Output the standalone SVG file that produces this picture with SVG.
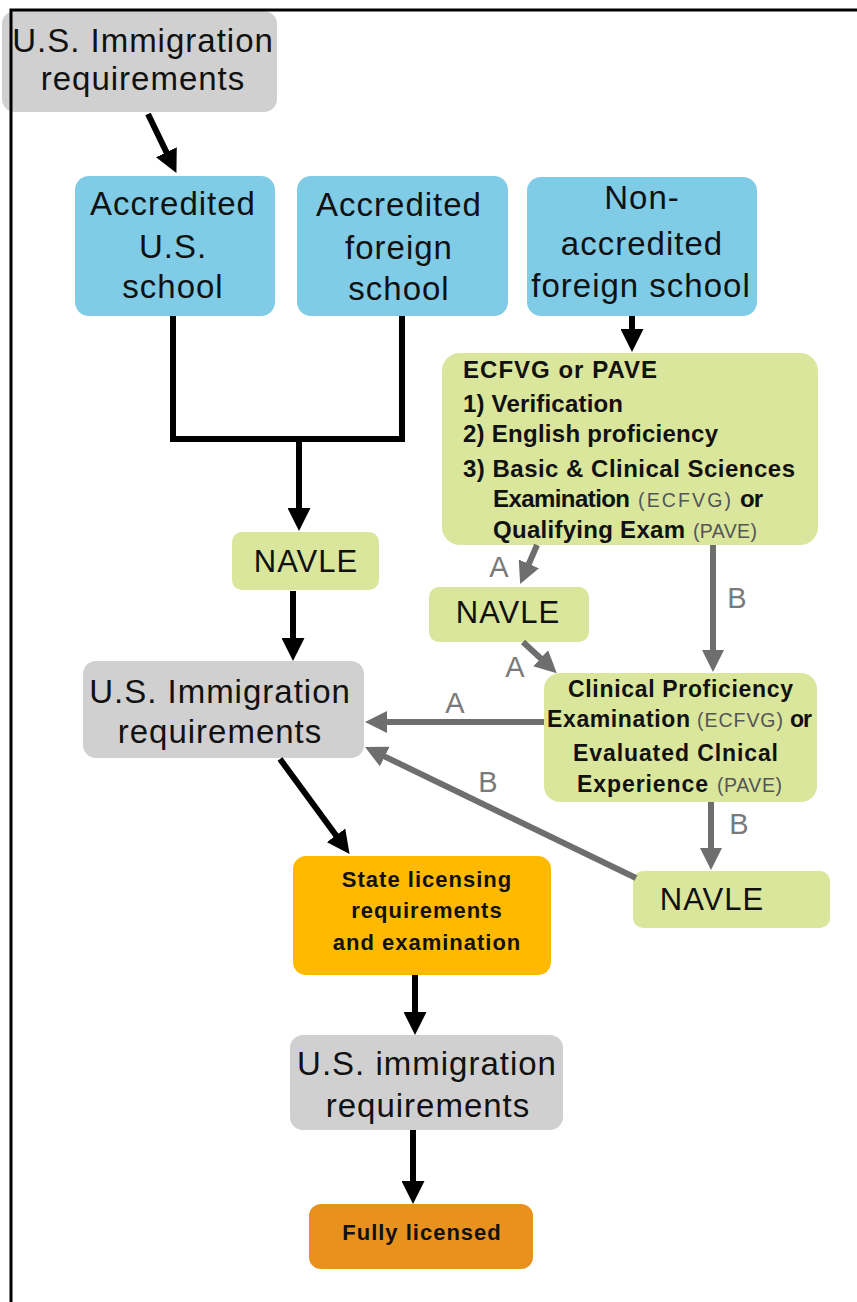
<svg xmlns="http://www.w3.org/2000/svg" width="857" height="1302" viewBox="0 0 857 1302">
<defs>
<style>
.big{font-family:"Liberation Sans",Arial,sans-serif;font-size:33px;letter-spacing:1px;fill:#111;text-anchor:middle}
.navle{font-family:"Liberation Sans",Arial,sans-serif;font-size:31px;letter-spacing:1px;fill:#111;text-anchor:middle}
.bd{font-family:"Liberation Sans",Arial,sans-serif;font-weight:bold;fill:#111}
.sm{font-family:"Liberation Sans",Arial,sans-serif;font-size:19.5px;fill:#555}
.lbl{font-family:"Liberation Sans",Arial,sans-serif;font-size:29px;fill:#7a7a7a;text-anchor:middle}
.gray{fill:#d0d0d0}
.blue{fill:#80cce6}
.green{fill:#d9e69c}
.blk{stroke:#000;stroke-width:6;fill:none}
.gry{stroke:#6e6e6e;stroke-width:6;fill:none}
</style>
<marker id="ab" markerUnits="userSpaceOnUse" markerWidth="23" markerHeight="23" refX="8" refY="11.5" orient="auto" viewBox="0 0 23 23">
<path d="M0,0 L23,11.5 L0,23 z" fill="#000"/>
</marker>
<marker id="ag" markerUnits="userSpaceOnUse" markerWidth="22" markerHeight="22" refX="8" refY="11" orient="auto" viewBox="0 0 22 22">
<path d="M0,0 L22,11 L0,22 z" fill="#6e6e6e"/>
</marker>
</defs>
<rect width="857" height="1302" fill="#fff"/>

<g id="n-imm-top">
<rect class="gray" x="2" y="11" width="275" height="101" rx="13"/>
<text class="big" x="143" y="52">U.S. Immigration</text>
<text class="big" x="143" y="90">requirements</text>
</g>

<g id="n-acc-us">
<rect class="blue" x="75" y="176" width="200" height="140" rx="14"/>
<text class="big" x="173" y="215">Accredited</text>
<text class="big" x="173" y="258">U.S.</text>
<text class="big" x="173" y="298">school</text>
</g>

<g id="n-acc-foreign">
<rect class="blue" x="297" y="176" width="211" height="140" rx="14"/>
<text class="big" x="399" y="215.5">Accredited</text>
<text class="big" x="399" y="259">foreign</text>
<text class="big" x="399" y="300">school</text>
</g>

<g id="n-nonacc">
<rect class="blue" x="527" y="177" width="230" height="139" rx="14"/>
<text class="big" x="642" y="209">Non-</text>
<text class="big" x="642" y="255">accredited</text>
<text class="big" x="641" y="297">foreign school</text>
</g>

<g id="n-ecfvg">
<rect class="green" x="442" y="353" width="376" height="192" rx="18"/>
<text class="bd" font-size="24" x="463" y="378" textLength="194" lengthAdjust="spacing">ECFVG or PAVE</text>
<text class="bd" font-size="24" x="463" y="412" textLength="160" lengthAdjust="spacing">1) Verification</text>
<text class="bd" font-size="24" x="463" y="442" textLength="255" lengthAdjust="spacing">2) English proficiency</text>
<text class="bd" font-size="24" x="463" y="477" textLength="332" lengthAdjust="spacing">3) Basic &amp; Clinical Sciences</text>
<text class="bd" font-size="24" x="493" y="507" textLength="137" lengthAdjust="spacing">Examination</text>
<text class="sm" x="638" y="507" textLength="93" lengthAdjust="spacing">(ECFVG)</text>
<text class="bd" font-size="24" x="740" y="507" textLength="23" lengthAdjust="spacing">or</text>
<text class="bd" font-size="24" x="493" y="538" textLength="192" lengthAdjust="spacing">Qualifying Exam</text>
<text class="sm" x="693" y="538" textLength="64" lengthAdjust="spacing">(PAVE)</text>
</g>

<g id="n-navle-left">
<rect class="green" x="232" y="532" width="147" height="58" rx="10"/>
<text class="navle" x="306" y="572">NAVLE</text>
</g>

<g id="n-navle-mid">
<rect class="green" x="429" y="587" width="160" height="55" rx="10"/>
<text class="navle" x="508" y="623">NAVLE</text>
</g>

<g id="n-clinical">
<rect class="green" x="544" y="673" width="273" height="129" rx="16"/>
<text class="bd" font-size="23" x="568" y="697" textLength="225" lengthAdjust="spacing">Clinical Proficiency</text>
<text class="bd" font-size="23" x="547" y="727" textLength="143" lengthAdjust="spacing">Examination</text>
<text class="sm" x="697" y="727" textLength="86" lengthAdjust="spacing">(ECFVG)</text>
<text class="bd" font-size="23" x="790" y="727" textLength="22" lengthAdjust="spacing">or</text>
<text class="bd" font-size="23" x="573" y="761" textLength="205" lengthAdjust="spacing">Evaluated Clnical</text>
<text class="bd" font-size="23" x="577" y="792" textLength="131" lengthAdjust="spacing">Experience</text>
<text class="sm" x="717" y="792" textLength="65" lengthAdjust="spacing">(PAVE)</text>
</g>

<g id="n-imm-mid">
<rect class="gray" x="83" y="661" width="281" height="97" rx="13"/>
<text class="big" x="220" y="703">U.S. Immigration</text>
<text class="big" x="220" y="743">requirements</text>
</g>

<g id="n-navle-right">
<rect class="green" x="633" y="871" width="197" height="57" rx="10"/>
<text class="navle" x="712" y="910">NAVLE</text>
</g>

<g id="n-state">
<rect x="293" y="856" width="258" height="119" rx="13" fill="#ffba00"/>
<text class="bd" font-size="22" x="427" y="887" text-anchor="middle" letter-spacing="1">State licensing</text>
<text class="bd" font-size="22" x="427" y="918" text-anchor="middle" letter-spacing="1">requirements</text>
<text class="bd" font-size="22" x="427" y="950" text-anchor="middle" letter-spacing="1">and examination</text>
</g>

<g id="n-imm-bottom">
<rect class="gray" x="290" y="1035" width="273" height="95" rx="13"/>
<text class="big" x="427" y="1075">U.S. immigration</text>
<text class="big" x="428" y="1117">requirements</text>
</g>

<g id="n-licensed">
<rect x="309" y="1204" width="224" height="65" rx="12" fill="#e8911c"/>
<text class="bd" font-size="22" x="422" y="1240" text-anchor="middle" letter-spacing="1">Fully licensed</text>
</g>

<g id="connectors">
<path class="blk" d="M148,114 L169.9,159.4" marker-end="url(#ab)"/>
<path class="blk" d="M173,316 V439 H402 V316"/>
<path class="blk" d="M299,439 V516" marker-end="url(#ab)"/>
<path class="blk" d="M632,316 V337" marker-end="url(#ab)"/>
<path class="blk" d="M293,591 V646" marker-end="url(#ab)"/>
<path class="blk" d="M280,759 L340.7,841.8" marker-end="url(#ab)"/>
<path class="blk" d="M415,975 V1020" marker-end="url(#ab)"/>
<path class="blk" d="M413,1130 V1189" marker-end="url(#ab)"/>
<path class="gry" d="M537,545 L525.7,571.2" marker-end="url(#ag)"/>
<path class="gry" d="M523,642 L546.5,663.7" marker-end="url(#ag)"/>
<path class="gry" d="M713,545 V658" marker-end="url(#ag)"/>
<path class="gry" d="M544,722 H379" marker-end="url(#ag)"/>
<path class="gry" d="M636,878 L377.6,753.1" marker-end="url(#ag)"/>
<path class="gry" d="M711,802 V856" marker-end="url(#ag)"/>
<text class="lbl" x="499" y="577">A</text>
<text class="lbl" x="515" y="677">A</text>
<text class="lbl" x="737" y="608">B</text>
<text class="lbl" x="455" y="713">A</text>
<text class="lbl" x="488" y="792">B</text>
<text class="lbl" x="739" y="834">B</text>
</g>

<g id="frame">
<path d="M10,10 H857 M11,8.5 V1302" stroke="#000" stroke-width="3" fill="none"/>
</g>
</svg>
